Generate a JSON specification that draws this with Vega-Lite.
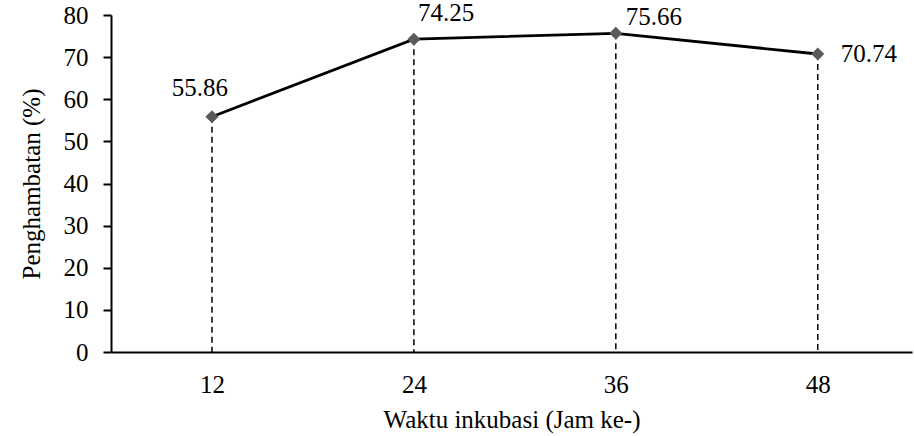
{
  "$schema": "https://vega.github.io/schema/vega-lite/v6.json",
  "width": 801,
  "height": 337,
  "autosize": "none",
  "padding": {"left": 111, "top": 15, "right": 2, "bottom": 84},
  "background": "white",
  "config": {
    "font": "Liberation Serif",
    "view": {"stroke": null},
    "axis": {
      "labelFont": "Liberation Serif",
      "titleFont": "Liberation Serif",
      "labelFontSize": 25,
      "titleFontSize": 25,
      "titleFontWeight": "normal",
      "labelColor": "black",
      "titleColor": "black",
      "domainColor": "black",
      "domainWidth": 2,
      "tickColor": "black",
      "tickWidth": 2,
      "grid": false
    }
  },
  "data": {
    "values": [
      {"jam": 12, "val": 55.86},
      {"jam": 24, "val": 74.25},
      {"jam": 36, "val": 75.66},
      {"jam": 48, "val": 70.74}
    ]
  },
  "encoding": {
    "x": {
      "field": "jam",
      "type": "quantitative",
      "scale": {"domain": [6, 53.6], "nice": false, "zero": false},
      "axis": {
        "values": [12, 24, 36, 48],
        "ticks": false,
        "labelPadding": 20,
        "title": "Waktu inkubasi (Jam ke-)",
        "titlePadding": 10
      }
    },
    "y": {
      "field": "val",
      "type": "quantitative",
      "scale": {"domain": [0, 80], "nice": false},
      "axis": {
        "values": [0, 10, 20, 30, 40, 50, 60, 70, 80],
        "tickSize": 8,
        "labelPadding": 15,
        "title": "Penghambatan (%)",
        "titlePadding": 19
      }
    }
  },
  "layer": [
    {
      "mark": {"type": "rule", "color": "black", "strokeWidth": 1.5, "strokeDash": [6, 4]},
      "encoding": {"y2": {"datum": 0}}
    },
    {
      "mark": {"type": "line", "color": "black", "strokeWidth": 2.8}
    },
    {
      "mark": {"type": "point", "shape": "diamond", "filled": true, "color": "#595959", "size": 170, "opacity": 1}
    },
    {
      "transform": [{"filter": "datum.jam == 12"}],
      "mark": {"type": "text", "fontSize": 25, "align": "center", "baseline": "middle", "dx": -12, "dy": -29, "color": "black"},
      "encoding": {"text": {"field": "val", "type": "quantitative", "format": ".2f"}}
    },
    {
      "transform": [{"filter": "datum.jam == 24"}],
      "mark": {"type": "text", "fontSize": 25, "align": "left", "baseline": "middle", "dx": 4, "dy": -26, "color": "black"},
      "encoding": {"text": {"field": "val", "type": "quantitative", "format": ".2f"}}
    },
    {
      "transform": [{"filter": "datum.jam == 36"}],
      "mark": {"type": "text", "fontSize": 25, "align": "left", "baseline": "middle", "dx": 10, "dy": -16, "color": "black"},
      "encoding": {"text": {"field": "val", "type": "quantitative", "format": ".2f"}}
    },
    {
      "transform": [{"filter": "datum.jam == 48"}],
      "mark": {"type": "text", "fontSize": 25, "align": "left", "baseline": "middle", "dx": 23, "dy": 0, "color": "black"},
      "encoding": {"text": {"field": "val", "type": "quantitative", "format": ".2f"}}
    }
  ]
}
